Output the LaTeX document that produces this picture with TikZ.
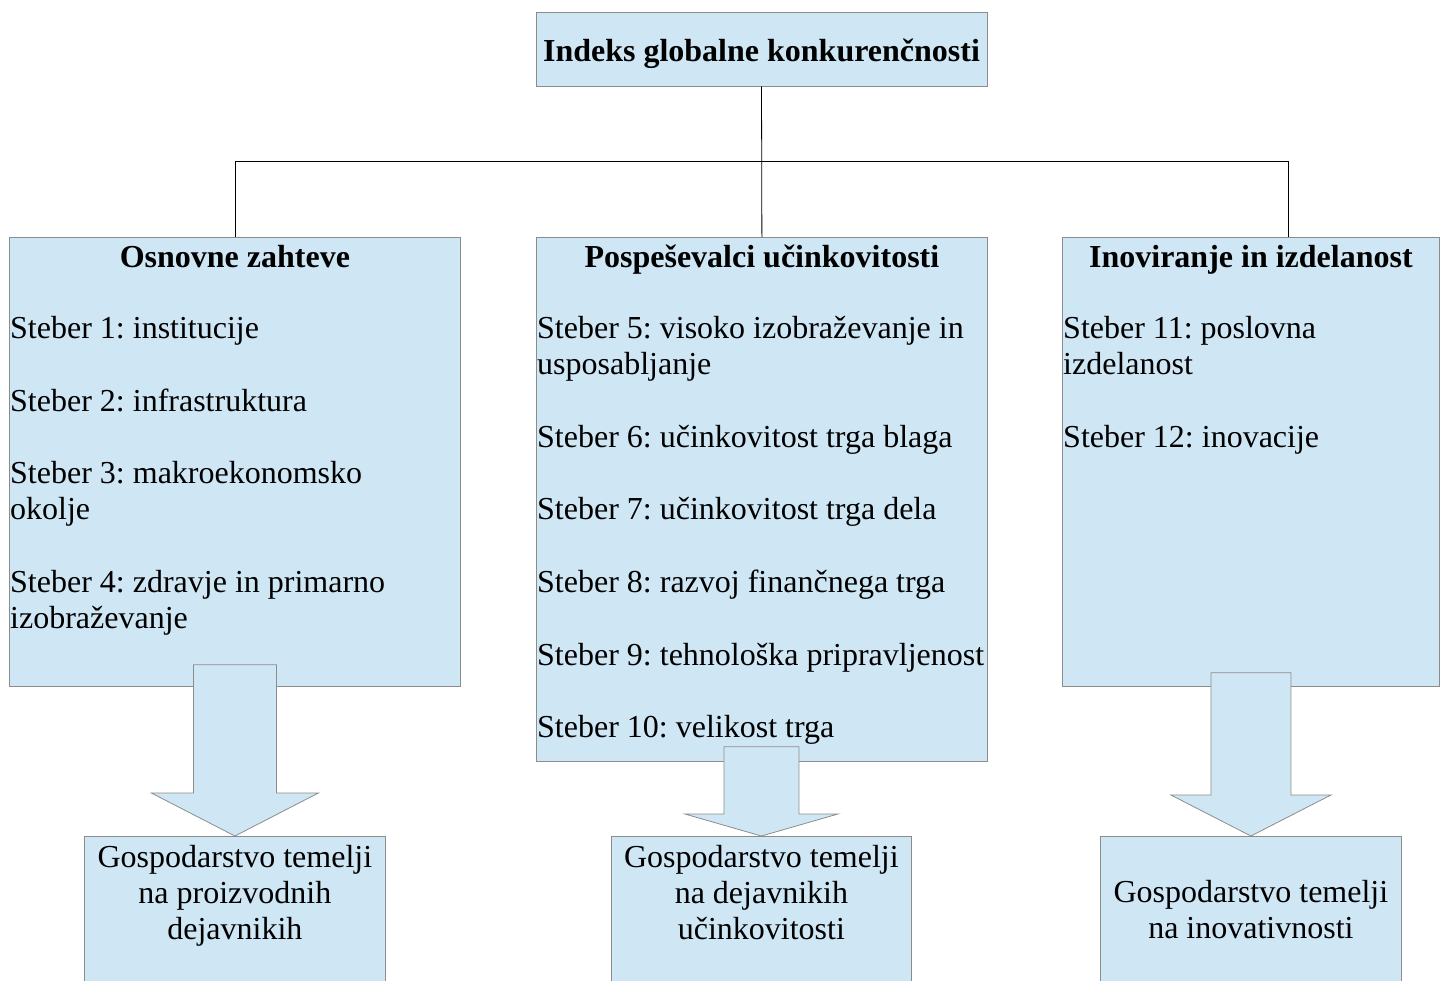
\documentclass[tikz,border=0pt]{standalone}
\usepackage{fontspec}
\setmainfont{Liberation Serif}
\usetikzlibrary{positioning, calc}
\definecolor{boxBlue}{HTML}{CFE7F5}
\definecolor{boxGray}{HTML}{8C8C8C}
\frenchspacing

% block arrow: source, target, shaft half width, head half width, head length, overlap
\newcommand{\blokpuscica}[6]{%
  \path[puscica] let \p1=(#1.south), \p2=(#2.north) in
    (\x2-#3pt,\y1+#6pt) -- (\x2-#3pt,\y2+#5pt) -- (\x2-#4pt,\y2+#5pt) -- (\p2)
    -- (\x2+#4pt,\y2+#5pt) -- (\x2+#3pt,\y2+#5pt) -- (\x2+#3pt,\y1+#6pt) -- cycle;}

\begin{document}
\begin{tikzpicture}[
  x=1pt, y=1pt,
  okvir/.style={rectangle, draw=boxGray, fill=boxBlue, line width=0.8pt, inner sep=0pt, anchor=north west},
  naslov/.style={font=\fontsize{32}{36}\selectfont\bfseries, inner sep=0pt},
  postavke/.style={font=\fontsize{32}{36.3}\selectfont, align=left, inner sep=0pt},
  izid/.style={font=\fontsize{32}{36}\selectfont, align=center, inner sep=0pt},
  povezava/.style={draw=black, line width=0.8pt},
  puscica/.style={draw=boxGray, fill=boxBlue, line width=0.8pt, line join=miter},
]
\clip (0,0) rectangle (1443,-980);

% boxes
\node[okvir, minimum width=451pt, minimum height=74pt, anchor=center, text height=24pt, text depth=0pt, font=\fontsize{32}{36}\selectfont\bfseries] (indeks) at (761.5,-49) {Indeks globalne konkurenčnosti};
\node[okvir, minimum width=451pt, minimum height=449pt] (osnovne) at (9,-237) {};
\node[okvir, minimum width=451pt, minimum height=524pt] (pospesevalci) at (536,-237) {};
\node[okvir, minimum width=377pt, minimum height=449pt] (inoviranje) at (1062,-237) {};

% titles
\node[naslov, below=8pt of osnovne.north] (naslov1) {Osnovne zahteve};
\node[naslov, below=8pt of pospesevalci.north] (naslov2) {Pospeševalci učinkovitosti};
\node[naslov, below=8pt of inoviranje.north] (naslov3) {Inoviranje in izdelanost};

% pillars
\node[postavke, below right=79pt and 1pt of osnovne.north west] (stebri1) {Steber 1: institucije\\[36.3pt]Steber 2: infrastruktura\\[36.3pt]Steber 3: makroekonomsko\\okolje\\[36.3pt]Steber 4: zdravje in primarno\\izobraževanje};
\node[postavke, below right=79pt and 1pt of pospesevalci.north west] (stebri2) {Steber 5: visoko izobraževanje in\\usposabljanje\\[36.3pt]Steber 6: učinkovitost trga blaga\\[36.3pt]Steber 7: učinkovitost trga dela\\[36.3pt]Steber 8: razvoj finančnega trga\\[36.3pt]Steber 9: tehnološka pripravljenost\\[36.3pt]Steber 10: velikost trga};
\node[postavke, below right=79pt and 1pt of inoviranje.north west] (stebri3) {Steber 11: poslovna\\izdelanost\\[36.3pt]Steber 12: inovacije};

% connectors
\draw[povezava] (indeks.south) -- (pospesevalci.north);
\coordinate (razcep) at ($(indeks.south)+(0,-75)$);
\coordinate (desno) at ($(inoviranje.north)+(37.5,0)$);
\draw[povezava] (osnovne.north) |- (razcep) -| (desno);

% bottom boxes
\node[okvir, minimum width=301pt, minimum height=200pt] (gosp1) at (84,-836) {};
\node[okvir, minimum width=300pt, minimum height=200pt] (gosp2) at (611,-836) {};
\node[okvir, minimum width=301pt, minimum height=200pt] (gosp3) at (1100,-836) {};

\blokpuscica{osnovne}{gosp1}{41.5}{83.5}{43}{22}
\blokpuscica{pospesevalci}{gosp2}{37.5}{76.5}{22}{15}
\blokpuscica{inoviranje}{gosp3}{40}{80}{41}{14}

\node[izid, below=9pt of gosp1.north] (izid1) {Gospodarstvo temelji\\na proizvodnih\\dejavnikih};
\node[izid, below=9pt of gosp2.north] (izid2) {Gospodarstvo temelji\\na dejavnikih\\učinkovitosti};
\node[izid, below=44pt of gosp3.north] (izid3) {Gospodarstvo temelji\\na inovativnosti};
\end{tikzpicture}
\end{document}
